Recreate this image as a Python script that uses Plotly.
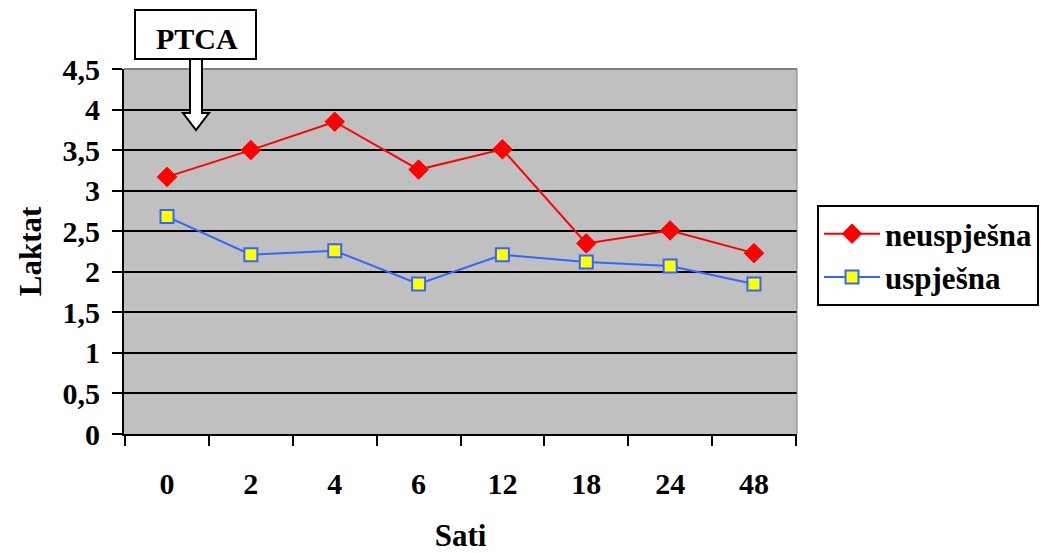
import plotly.graph_objects as go

# Hours after the procedure and mean lactate per group
sati = ["0", "2", "4", "6", "12", "18", "24", "48"]
neuspjesna = [3.17, 3.50, 3.85, 3.26, 3.51, 2.35, 2.51, 2.23]
uspjesna = [2.68, 2.21, 2.26, 1.85, 2.21, 2.12, 2.07, 1.85]

y_ticks = [0, 0.5, 1, 1.5, 2, 2.5, 3, 3.5, 4, 4.5]
y_tick_text = ["0", "0,5", "1", "1,5", "2", "2,5", "3", "3,5", "4", "4,5"]

SERIF = "Liberation Serif"

fig = go.Figure()
fig.add_trace(go.Scatter(
    x=sati, y=neuspjesna, name="<b>neuspješna</b>", mode="lines+markers",
    line=dict(color="#FF0000", width=2),
    marker=dict(symbol="diamond", size=15, color="#FF0000",
                line=dict(color="#FF0000", width=1)),
))
fig.add_trace(go.Scatter(
    x=sati, y=uspjesna, name="<b>uspješna</b>", mode="lines+markers",
    line=dict(color="#3366FF", width=2),
    marker=dict(symbol="square", size=13, color="#FFFF00",
                line=dict(color="#3366FF", width=2)),
))

# Plot area geometry in pixels (used for paper-space annotations)
L, R, T, B = 124, 797, 69, 434
W, H = R - L, B - T


def px(x):
    return (x - L) / W


def py(y):
    return (B - y) / H


# Down arrow from the PTCA label into the plot
ax, shaft, head = 196, 6, 13
y0, y1, y2 = 59, 113, 130
arrow_path = (
    f"M {px(ax - shaft)} {py(y0)} L {px(ax - shaft)} {py(y1)} "
    f"L {px(ax - head)} {py(y1)} L {px(ax)} {py(y2)} "
    f"L {px(ax + head)} {py(y1)} L {px(ax + shaft)} {py(y1)} "
    f"L {px(ax + shaft)} {py(y0)} Z"
)

fig.update_layout(
    width=1060, height=553,
    margin=dict(l=L, r=1060 - R, t=T, b=553 - B, autoexpand=False),
    paper_bgcolor="white", plot_bgcolor="#C0C0C0",
    showlegend=True,
    legend=dict(
        x=px(817), y=py(205), xanchor="left", yanchor="top",
        bordercolor="black", borderwidth=2, bgcolor="white",
        font=dict(family=SERIF, size=31, color="black"),
        itemwidth=56, tracegroupgap=0,
    ),
    xaxis=dict(
        type="category", showgrid=False, showline=True, linecolor="black",
        linewidth=2, ticks="outside", ticklen=10, tickwidth=2,
        tickcolor="black", tickson="boundaries", automargin=False,
        tickvals=sati, ticktext=[f"<b>{s}</b>" for s in sati],
        ticklabelstandoff=22,
        tickfont=dict(family=SERIF, size=30, color="black"),
        title=dict(text="<b>Sati</b>",
                   font=dict(family=SERIF, size=31, color="black"),
                   standoff=26),
    ),
    yaxis=dict(
        range=[0, 4.5], tickvals=y_ticks,
        ticktext=[f"<b>{t}</b>" for t in y_tick_text],
        showgrid=True, gridcolor="black", gridwidth=2,
        showline=True, linecolor="black", linewidth=2,
        ticks="outside", ticklen=10, tickwidth=2, tickcolor="black",
        ticklabelstandoff=6, zeroline=False, automargin=False,
        tickfont=dict(family=SERIF, size=30, color="black"),
        title=dict(text="<b>Laktat</b>",
                   font=dict(family=SERIF, size=31, color="black"),
                   standoff=12),
    ),
    shapes=[
        # plot area border on top and right
        dict(type="line", xref="paper", yref="paper", x0=0, x1=1, y0=1, y1=1,
             line=dict(color="#808080", width=2), layer="above"),
        dict(type="line", xref="paper", yref="paper", x0=1, x1=1, y0=0, y1=1,
             line=dict(color="#808080", width=1), layer="above"),
        # PTCA label box
        dict(type="rect", xref="paper", yref="paper",
             x0=px(135), x1=px(256), y0=py(59), y1=py(10),
             fillcolor="white", line=dict(color="black", width=2),
             layer="above"),
        dict(type="path", xref="paper", yref="paper", path=arrow_path,
             fillcolor="white", line=dict(color="black", width=2),
             layer="above"),
    ],
    annotations=[
        dict(text="<b>PTCA</b>", xref="paper", yref="paper",
             x=px(197), y=py(39), xanchor="center", yanchor="middle",
             showarrow=False,
             font=dict(family=SERIF, size=30, color="black")),
    ],
)

fig.write_html("out.html")
